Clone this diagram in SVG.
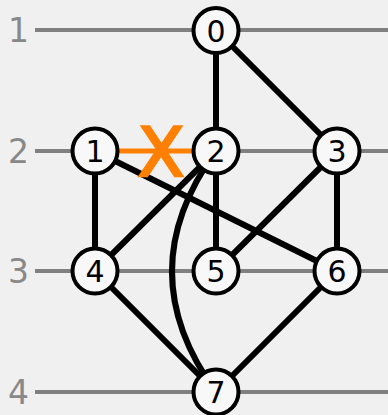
<svg xmlns="http://www.w3.org/2000/svg" width="388" height="415" viewBox="0 0 388 415">
<style>
.lvl{stroke:#808080;stroke-width:4}
.lt{font-family:"DejaVu Sans",sans-serif;font-size:33px;fill:#888888;text-anchor:end}
.e{stroke:#000;stroke-width:6;fill:none}
.n circle{fill:#f8f8f8;stroke:#000;stroke-width:4}
.n text{font-family:"DejaVu Sans",sans-serif;font-size:30px;fill:#000;text-anchor:middle}
</style>
<rect width="388" height="415" fill="#f0f0f0"/>
<g id="levels">
<line class="lvl" x1="35" y1="30" x2="388" y2="30"/>
<line class="lvl" x1="35" y1="151" x2="388" y2="151"/>
<line class="lvl" x1="35" y1="271" x2="388" y2="271"/>
<line class="lvl" x1="35" y1="392" x2="388" y2="392"/>
<text class="lt" x="29" y="42">1</text>
<text class="lt" x="29" y="163">2</text>
<text class="lt" x="29" y="283">3</text>
<text class="lt" x="29" y="404">4</text>
</g>
<g id="connectors">
<line class="e" x1="216" y1="30" x2="216" y2="151"/>
<line class="e" x1="216" y1="30" x2="337" y2="151"/>
<line x1="95" y1="151" x2="216" y2="151" stroke="#ff8000" stroke-width="5"/>
<line class="e" x1="95" y1="151" x2="95" y2="271"/>
<line class="e" x1="95" y1="151" x2="337" y2="271"/>
<line class="e" x1="216" y1="151" x2="95" y2="271"/>
<line class="e" x1="216" y1="151" x2="216" y2="271"/>
<path class="e" d="M216 151 Q128 271.5 216 392"/>
<line class="e" x1="337" y1="151" x2="216" y2="271"/>
<line class="e" x1="337" y1="151" x2="337" y2="271"/>
<line class="e" x1="95" y1="271" x2="216" y2="392"/>
<line class="e" x1="337" y1="271" x2="216" y2="392"/>
<text x="161" y="176" font-family="DejaVu Sans,sans-serif" font-size="68" fill="#ff8000" stroke="#ff8000" stroke-width="2.5" text-anchor="middle">X</text>
</g>
<g id="n0" class="n"><circle cx="216" cy="30.5" r="22.5"/><text x="216" y="41.5">0</text></g>
<g id="n1" class="n"><circle cx="95" cy="151" r="22.5"/><text x="95" y="162">1</text></g>
<g id="n2" class="n"><circle cx="216" cy="151" r="22.5"/><text x="216" y="162">2</text></g>
<g id="n3" class="n"><circle cx="337" cy="151" r="22.5"/><text x="337" y="162">3</text></g>
<g id="n4" class="n"><circle cx="95" cy="271" r="22.5"/><text x="95" y="282">4</text></g>
<g id="n5" class="n"><circle cx="216" cy="271" r="22.5"/><text x="216" y="282">5</text></g>
<g id="n6" class="n"><circle cx="337" cy="271" r="22.5"/><text x="337" y="282">6</text></g>
<g id="n7" class="n"><circle cx="216" cy="392" r="22.5"/><text x="216" y="403">7</text></g>
</svg>
